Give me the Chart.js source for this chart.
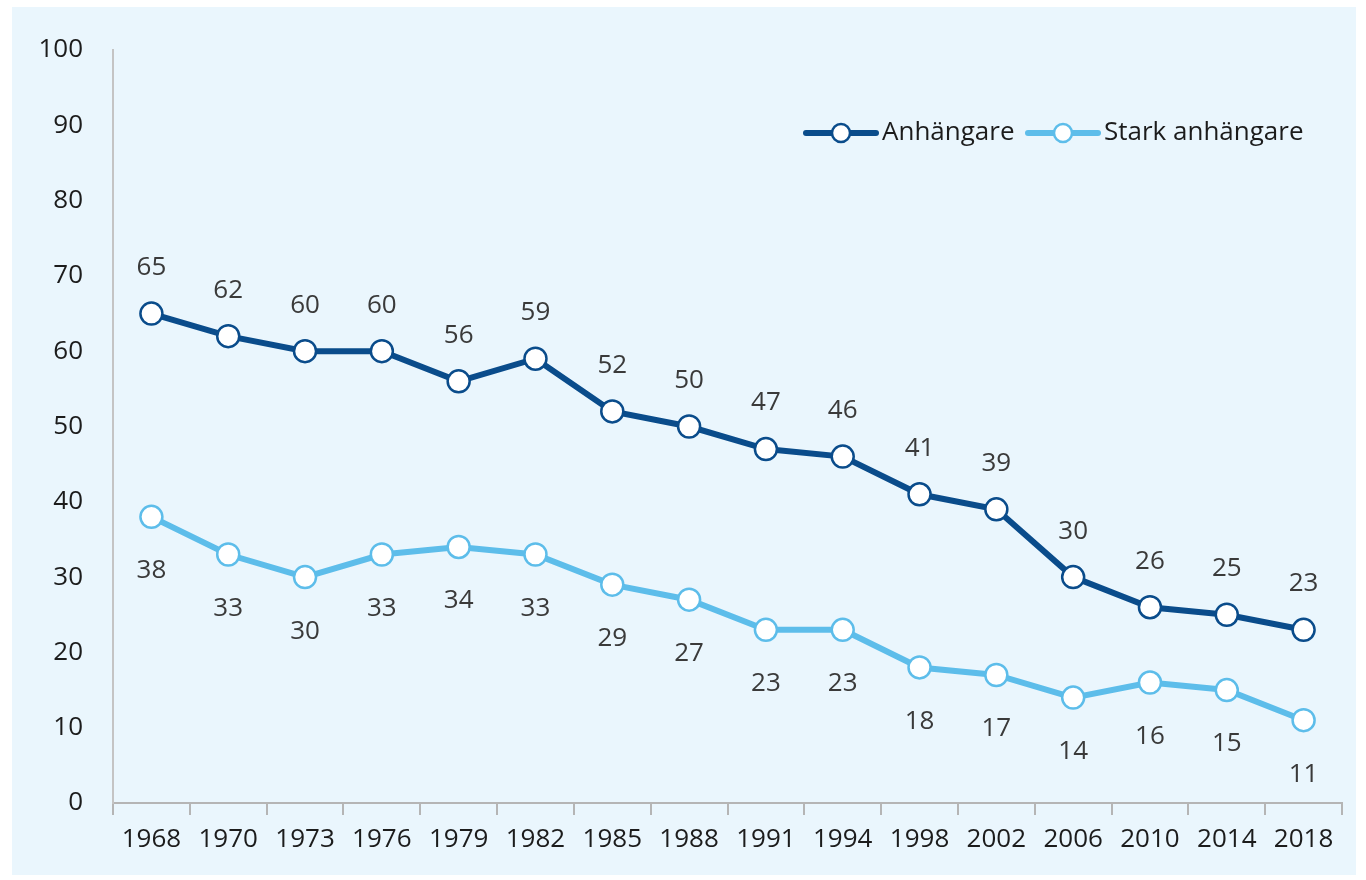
<!DOCTYPE html>
<html>
<head>
<meta charset="utf-8">
<script src="https://cdn.jsdelivr.net/npm/chart.js@4"></script>
<style>
  html, body { margin: 0; padding: 0; background: #ffffff; }
  #wrap { width: 1366px; height: 880px; }
</style>
</head>
<body>
<div id="wrap"><canvas id="partyChart" width="1366" height="880"></canvas></div>
<script>
// Data
const years = ['1968', '1970', '1973', '1976', '1979', '1982', '1985', '1988', '1991', '1994', '1998', '2002', '2006', '2010', '2014', '2018'];
const anhangare = [65, 62, 60, 60, 56, 59, 52, 50, 47, 46, 41, 39, 30, 26, 25, 23];
const starkAnhangare = [38, 33, 30, 33, 34, 33, 29, 27, 23, 23, 18, 17, 14, 16, 15, 11];
const seriesNames = ['Anhängare', 'Stark anhängare'];

const darkBlue = '#0a4c8b';
const lightBlue = '#5dbdea';
const textColor = '#1c1c1c';
const labelColor = '#3a3a3a';
const fontFamily = '"Open Sans", "Noto Sans", sans-serif';

// Light blue panel behind the chart
const panelPlugin = {
    id: 'panel',
    beforeDraw(chart) {
        const ctx = chart.ctx;
        ctx.save();
        ctx.fillStyle = '#eaf6fd';
        ctx.fillRect(12, 7, 1344, 868);
        ctx.restore();
    }
};

// Value labels: above for dark series, below for light series
const valueLabels = {
    id: 'valueLabels',
    afterDatasetsDraw(chart) {
        const ctx = chart.ctx;
        ctx.save();
        ctx.font = '26px ' + fontFamily;
        ctx.fillStyle = labelColor;
        ctx.textAlign = 'center';
        ctx.textBaseline = 'middle';
        chart.data.datasets.forEach((ds, i) => {
            const meta = chart.getDatasetMeta(i);
            meta.data.forEach((pt, j) => {
                const dy = i === 0 ? -46 : 54;
                ctx.fillText(String(ds.data[j]), pt.x, pt.y + dy);
            });
        });
        ctx.restore();
    }
};

// Legend drawn inside the plot, top right
const legendPlugin = {
    id: 'customLegend',
    afterDraw(chart) {
        const ctx = chart.ctx;
        const y = 133;
        const items = [
            { x: 806, color: darkBlue, text: seriesNames[0] },
            { x: 1028, color: lightBlue, text: seriesNames[1] }
        ];
        ctx.save();
        ctx.font = '26px ' + fontFamily;
        ctx.textBaseline = 'middle';
        items.forEach(it => {
            ctx.strokeStyle = it.color;
            ctx.lineWidth = 6;
            ctx.lineCap = 'round';
            ctx.beginPath();
            ctx.moveTo(it.x, y);
            ctx.lineTo(it.x + 70, y);
            ctx.stroke();
            ctx.beginPath();
            ctx.arc(it.x + 35, y, 9, 0, Math.PI * 2);
            ctx.fillStyle = '#ffffff';
            ctx.fill();
            ctx.lineWidth = 2.5;
            ctx.stroke();
            ctx.fillStyle = textColor;
            ctx.fillText(it.text, it.x + 76, y);
        });
        ctx.restore();
    }
};

const partyConfig = {
    type: 'line',
    data: {
        labels: years,
        datasets: [{
            label: seriesNames[0],
            data: anhangare,
            borderColor: darkBlue,
            borderWidth: 6,
            pointRadius: 11,
            pointBackgroundColor: '#ffffff',
            pointBorderColor: darkBlue,
            pointBorderWidth: 2.5,
            tension: 0
        }, {
            label: seriesNames[1],
            data: starkAnhangare,
            borderColor: lightBlue,
            borderWidth: 6,
            pointRadius: 11,
            pointBackgroundColor: '#ffffff',
            pointBorderColor: lightBlue,
            pointBorderWidth: 2.5,
            tension: 0
        }]
    },
    options: {
        responsive: false,
        animation: false,
        layout: {
            padding: { top: 50, right: 24, bottom: 0, left: 0 }
        },
        scales: {
            x: {
                offset: true,
                grid: {
                    display: true,
                    drawOnChartArea: false,
                    drawTicks: true,
                    tickLength: 12,
                    offset: true,
                    color: '#b5b5b5',
                    lineWidth: 2
                },
                border: { display: true, color: '#b5b5b5', width: 2 },
                ticks: {
                    color: textColor,
                    font: { family: fontFamily, size: 26 },
                    padding: 9,
                    maxRotation: 0,
                    autoSkip: false
                },
                afterFit(scale) { scale.height = 77; }
            },
            y: {
                min: 0,
                max: 100,
                grid: { display: false, drawTicks: false },
                border: { display: true, color: '#c4c4c4', width: 2 },
                ticks: {
                    stepSize: 10,
                    color: textColor,
                    font: { family: fontFamily, size: 26 },
                    padding: 30
                },
                afterFit(scale) { scale.width = 113; }
            }
        },
        plugins: {
            legend: { display: false },
            tooltip: { enabled: false }
        }
    },
    plugins: [panelPlugin, valueLabels, legendPlugin]
};

const partyChart = new Chart(document.getElementById('partyChart'), partyConfig);
</script>
</body>
</html>
